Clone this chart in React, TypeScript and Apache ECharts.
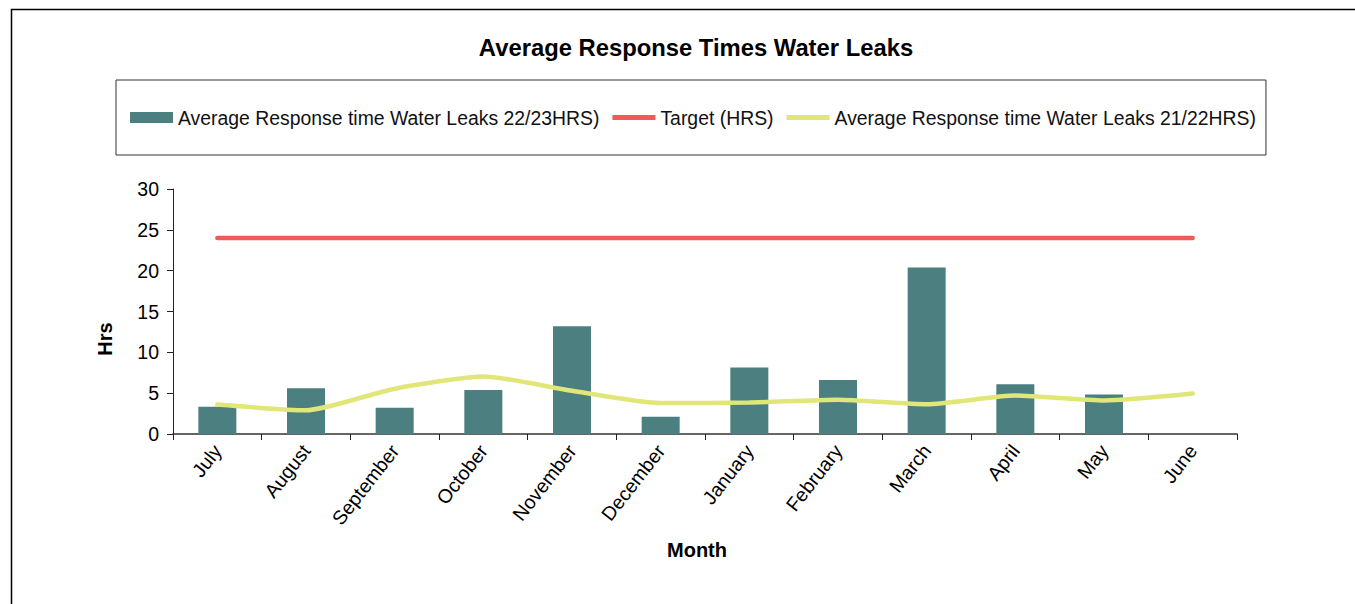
import React, { useEffect, useRef } from "react";
import * as echarts from "echarts";

const months = ["July", "August", "September", "October", "November", "December", "January", "February", "March", "April", "May", "June"];
const leaks2223 = [3.35, 5.6, 3.2, 5.4, 13.2, 2.1, 8.15, 6.6, 20.4, 6.1, 4.85, null];
const target = [24, 24, 24, 24, 24, 24, 24, 24, 24, 24, 24, 24];
const leaks2122 = [3.6, 2.9, 5.55, 7.05, 5.3, 3.8, 3.85, 4.2, 3.65, 4.7, 4.1, 4.95];

const seriesNames = [
  "Average Response time Water Leaks 22/23HRS)",
  "Target (HRS)",
  "Average Response time Water Leaks 21/22HRS)",
];

const FONT = "Liberation Sans, Arial, sans-serif";
const LINE_ICON = "path://M0,3 L43,3 L43,8 L0,8 Z";

export default function App() {
  const ref = useRef<HTMLDivElement>(null);
  useEffect(() => {
    if (!ref.current) return;
    const chart = echarts.init(ref.current, null, { renderer: "svg" });
    chart.setOption({
      animation: false,
      backgroundColor: "#ffffff",
      textStyle: { fontFamily: FONT },
      graphic: [
        {
          type: "rect",
          shape: { x: 11.5, y: 9.5, width: 1400, height: 700 },
          style: { fill: "none", stroke: "#000", lineWidth: 1.5 },
          silent: true,
        },
        {
          type: "text",
          x: 696,
          y: 47,
          style: {
            text: "Average Response Times Water Leaks",
            font: `bold 23.8px ${FONT}`,
            fill: "#000",
            align: "center",
            verticalAlign: "middle",
          },
        },
        {
          type: "text",
          x: 697,
          y: 550,
          style: {
            text: "Month",
            font: `bold 20px ${FONT}`,
            fill: "#000",
            align: "center",
            verticalAlign: "middle",
          },
        },
        {
          type: "text",
          x: 105,
          y: 339,
          rotation: Math.PI / 2,
          style: {
            text: "Hrs",
            font: `bold 20px ${FONT}`,
            fill: "#000",
            align: "center",
            verticalAlign: "middle",
          },
        },
      ],
      legend: {
        left: 116,
        top: 80,
        padding: [28, 10, 28, 14],
        borderColor: "#333",
        borderWidth: 1,
        itemGap: 13,
        itemWidth: 43,
        itemHeight: 11,
        symbolKeepAspect: true,
        textStyle: { fontSize: 19.4, color: "#111", fontFamily: FONT },
        data: [
          { name: seriesNames[0], icon: "rect" },
          { name: seriesNames[1], icon: LINE_ICON },
          { name: seriesNames[2], icon: LINE_ICON },
        ],
      },
      grid: { left: 173, right: 118, top: 189, bottom: 170 },
      xAxis: {
        type: "category",
        data: months,
        boundaryGap: true,
        axisLine: { lineStyle: { color: "#333", width: 1.5 } },
        axisTick: { show: true, length: 6, alignWithLabel: false, lineStyle: { color: "#222" } },
        axisLabel: {
          rotate: 52,
          margin: 13,
          fontSize: 19.5,
          color: "#000",
          fontFamily: FONT,
          interval: 0,
        },
      },
      yAxis: {
        type: "value",
        min: 0,
        max: 30,
        interval: 5,
        axisLine: { show: true, lineStyle: { color: "#222" } },
        axisTick: { show: true, length: 6, lineStyle: { color: "#222" } },
        splitLine: { show: false },
        axisLabel: { fontSize: 19.5, color: "#000", margin: 14, fontFamily: FONT },
      },
      series: [
        {
          name: seriesNames[0],
          type: "bar",
          data: leaks2223,
          barWidth: 38,
          itemStyle: { color: "#4b7f80" },
        },
        {
          name: seriesNames[1],
          type: "line",
          data: target,
          symbol: "none",
          lineStyle: { color: "#f25a5a", width: 4.5, cap: "round" },
          itemStyle: { color: "#f25a5a" },
        },
        {
          name: seriesNames[2],
          type: "line",
          data: leaks2122,
          symbol: "none",
          smooth: 0.2,
          lineStyle: { color: "#e0e778", width: 4.5, cap: "round" },
          itemStyle: { color: "#e0e778" },
        },
      ],
    });
    return () => chart.dispose();
  }, []);
  return (
    <div
      ref={ref}
      style={{ position: "absolute", left: 0, top: 0, width: 1355, height: 604 }}
    />
  );
}
